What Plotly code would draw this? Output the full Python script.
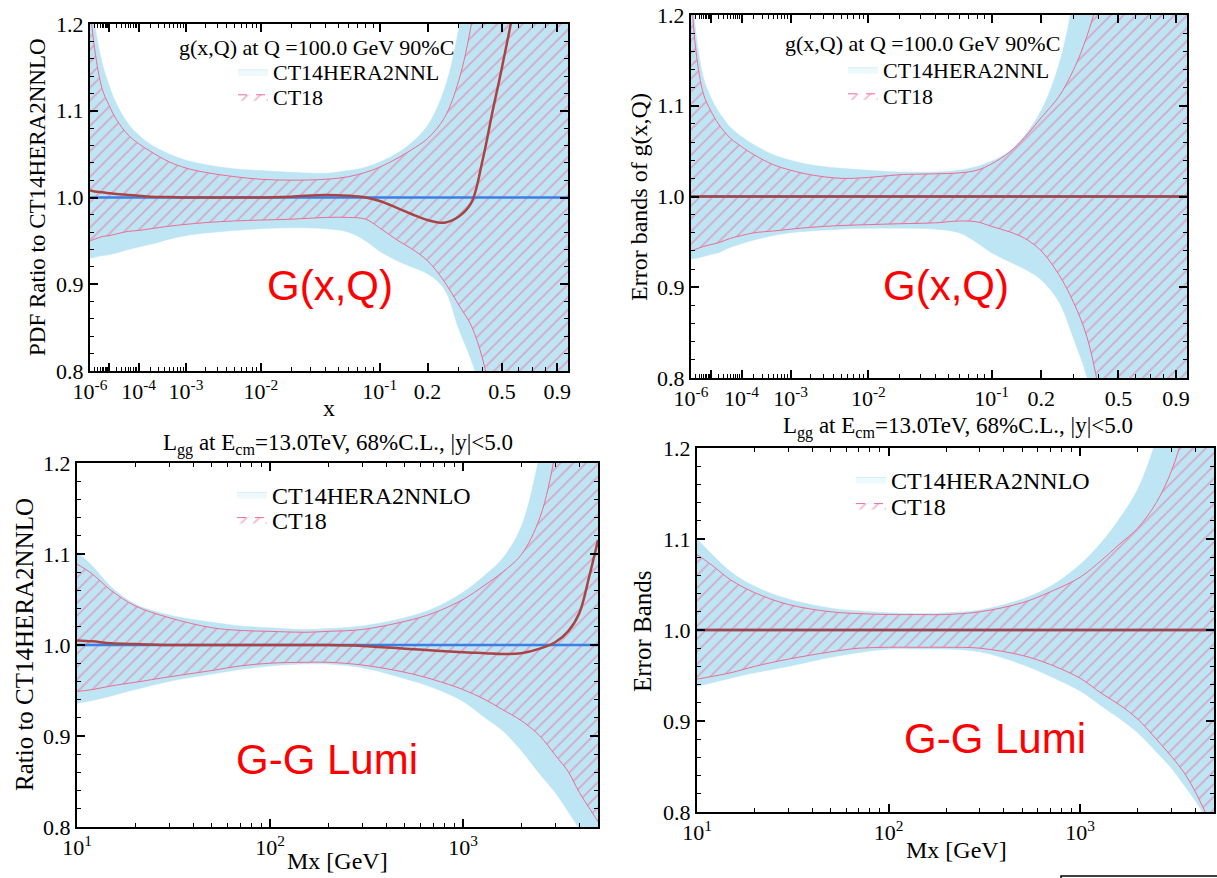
import plotly.graph_objects as go

W, H = 1217, 878
SERIF = "Liberation Serif, Times New Roman, serif"
SANS = "Liberation Sans, Arial, sans-serif"

BLUE_FILL = "rgb(190,229,244)"
PINK = "rgb(236,108,148)"
BLUE_LINE = "rgb(58,128,228)"
RED_LINE = "rgb(170,68,68)"

# ---------------- gluon PDF at Q = 100 GeV (top row) ----------------
x_pdf = [1e-6, 2e-6, 5e-6, 1e-5, 2e-5, 5e-5, 1e-4, 2e-4, 5e-4, 1e-3, 2e-3, 5e-3,
         1e-2, 2e-2, 4e-2, 6e-2, 8e-2, 0.1, 0.13, 0.16, 0.2, 0.25, 0.3, 0.35,
         0.4, 0.45, 0.5, 0.6, 0.7, 0.8, 0.9, 1.0]

# ratio to CT14HERA2NNLO (top left)
ct14_up_ratio = [1.26, 1.20, 1.155, 1.13, 1.108, 1.085, 1.072, 1.061, 1.05, 1.043, 1.038, 1.033,
                 1.031, 1.029, 1.028, 1.031, 1.035, 1.041, 1.051, 1.063, 1.083, 1.125, 1.195, 1.30,
                 1.42, 1.55, 1.7, 2.0, 2.5, 3.0, 4.0, 5.0]
ct14_lo_ratio = [0.930, 0.931, 0.933, 0.934, 0.936, 0.940, 0.943, 0.946, 0.952, 0.956, 0.959, 0.962,
                 0.964, 0.965, 0.964, 0.960, 0.950, 0.938, 0.927, 0.920, 0.912, 0.894, 0.848, 0.812,
                 0.77, 0.71, 0.64, 0.5, 0.3, 0.1, -0.1, -0.3]
ct18_up_ratio = [1.22, 1.17, 1.125, 1.107, 1.09, 1.072, 1.062, 1.053, 1.041, 1.034, 1.029, 1.024,
                 1.021, 1.020, 1.021, 1.024, 1.029, 1.035, 1.045, 1.055, 1.068, 1.092, 1.135, 1.20,
                 1.29, 1.38, 1.48, 1.7, 2.1, 2.6, 3.2, 4.0]
ct18_lo_ratio = [0.950, 0.952, 0.955, 0.956, 0.958, 0.961, 0.962, 0.964, 0.967, 0.969, 0.971, 0.973,
                 0.974, 0.975, 0.977, 0.977, 0.975, 0.965, 0.951, 0.941, 0.927, 0.903, 0.876, 0.852,
                 0.814, 0.76, 0.70, 0.56, 0.4, 0.2, 0.0, -0.2]
ct18_c_ratio = [1.008, 1.007, 1.006, 1.005, 1.004, 1.003, 1.002, 1.001, 1.0005, 1.0, 1.0, 1.0,
                1.0, 1.001, 1.003, 1.002, 1.0, 0.996, 0.988, 0.981, 0.974, 0.971, 0.978, 0.994,
                1.043, 1.10, 1.15, 1.25, 1.4, 1.6, 1.8, 2.0]
ct14_c_pdf = [1.0] * len(x_pdf)

# error bands, each set normalised to its own central value (top right)
ct14_up_err = [1.25, 1.18, 1.13, 1.11, 1.094, 1.076, 1.066, 1.057, 1.046, 1.040, 1.035, 1.031,
               1.029, 1.027, 1.027, 1.029, 1.033, 1.039, 1.050, 1.067, 1.095, 1.145, 1.22, 1.32,
               1.45, 1.6, 1.8, 2.2, 2.7, 3.2, 3.8, 4.5]
ct14_lo_err = [0.931, 0.932, 0.934, 0.936, 0.938, 0.944, 0.948, 0.952, 0.957, 0.960, 0.962, 0.964,
               0.965, 0.965, 0.964, 0.960, 0.949, 0.938, 0.928, 0.920, 0.908, 0.884, 0.843, 0.802,
               0.75, 0.69, 0.62, 0.45, 0.25, 0.05, -0.15, -0.35]
ct18_up_err = [1.23, 1.16, 1.112, 1.095, 1.08, 1.064, 1.055, 1.046, 1.035, 1.029, 1.024, 1.020,
               1.021, 1.024, 1.025, 1.026, 1.029, 1.036, 1.049, 1.065, 1.087, 1.110, 1.140, 1.176,
               1.22, 1.28, 1.35, 1.55, 1.8, 2.1, 2.5, 3.0]
ct18_lo_err = [0.940, 0.942, 0.945, 0.947, 0.949, 0.954, 0.957, 0.960, 0.962, 0.964, 0.966, 0.968,
               0.969, 0.970, 0.971, 0.973, 0.972, 0.967, 0.961, 0.954, 0.940, 0.914, 0.883, 0.846,
               0.79, 0.72, 0.64, 0.47, 0.28, 0.08, -0.12, -0.3]

# ---------------- gg luminosity at 13 TeV (bottom row) ----------------
m_lumi = [10, 12, 15, 20, 30, 50, 70, 100, 150, 200, 300, 500, 700, 1000, 1300, 1600,
          2000, 2500, 3000, 3500, 4000, 4500, 5000]

ct14_up_lratio = [1.102, 1.087, 1.064, 1.045, 1.033, 1.025, 1.021, 1.019, 1.017, 1.018, 1.021, 1.030,
                  1.040, 1.058, 1.077, 1.095, 1.13, 1.21, 1.30, 1.40, 1.5, 1.6, 1.7]
ct14_lo_lratio = [0.936, 0.939, 0.944, 0.951, 0.960, 0.968, 0.973, 0.977, 0.979, 0.979, 0.975, 0.963,
                  0.953, 0.938, 0.920, 0.906, 0.884, 0.858, 0.838, 0.817, 0.798, 0.78, 0.76]
ct18_up_lratio = [1.089, 1.078, 1.060, 1.043, 1.030, 1.019, 1.016, 1.015, 1.014, 1.015, 1.017, 1.026,
                  1.035, 1.050, 1.066, 1.080, 1.099, 1.14, 1.21, 1.30, 1.40, 1.5, 1.6]
ct18_lo_lratio = [0.949, 0.951, 0.955, 0.959, 0.965, 0.972, 0.977, 0.980, 0.981, 0.981, 0.978, 0.970,
                  0.962, 0.951, 0.940, 0.929, 0.917, 0.900, 0.879, 0.861, 0.838, 0.821, 0.806]
ct18_c_lratio = [1.005, 1.004, 1.002, 1.001, 1.0, 1.0, 1.0, 1.0, 1.0, 1.0, 0.999, 0.996,
                 0.994, 0.992, 0.991, 0.990, 0.991, 0.996, 1.003, 1.015, 1.035, 1.075, 1.115]
ct14_c_lumi = [1.0] * len(m_lumi)

ct14_up_lerr = [1.100, 1.083, 1.064, 1.048, 1.034, 1.024, 1.021, 1.019, 1.018, 1.019, 1.022, 1.034,
                1.048, 1.072, 1.097, 1.122, 1.155, 1.21, 1.28, 1.36, 1.45, 1.55, 1.65]
ct14_lo_lerr = [0.938, 0.942, 0.947, 0.953, 0.960, 0.970, 0.975, 0.979, 0.979, 0.979, 0.976, 0.962,
                0.949, 0.933, 0.916, 0.903, 0.887, 0.866, 0.848, 0.829, 0.812, 0.795, 0.78]
ct18_up_lerr = [1.083, 1.071, 1.055, 1.041, 1.028, 1.020, 1.018, 1.017, 1.017, 1.017, 1.020, 1.030,
                1.042, 1.058, 1.077, 1.094, 1.112, 1.14, 1.175, 1.22, 1.28, 1.35, 1.43]
ct18_lo_lerr = [0.946, 0.949, 0.953, 0.960, 0.968, 0.976, 0.980, 0.981, 0.981, 0.981, 0.980, 0.972,
                0.962, 0.947, 0.930, 0.918, 0.902, 0.880, 0.861, 0.843, 0.822, 0.80, 0.78]

# ---------------- axis ticks ----------------
XPOW = 0.2  # x axis of the PDF panels is drawn on an x^0.2 scale
top_major = [1e-6, 1e-5, 1e-4, 1e-3, 1e-2, 0.1, 0.2, 0.5, 0.9]
top_major_text = ["10<sup>-6</sup>", "", "10<sup>-4</sup>", "10<sup>-3</sup>", "10<sup>-2</sup>",
                  "10<sup>-1</sup>", "0.2", "0.5", "0.9"]
top_minor = [k * 10.0 ** n for n in range(-6, -1) for k in range(2, 10)] + [0.3, 0.4, 0.6, 0.7, 0.8]
bot_major = [10, 100, 1000]
bot_major_text = ["10<sup>1</sup>", "10<sup>2</sup>", "10<sup>3</sup>"]
bot_minor = [k * 10 ** n for n in (1, 2) for k in range(2, 10)] + [2000, 3000, 4000, 5000]
y_major = [0.8, 0.9, 1.0, 1.1, 1.2]
y_major_text = ["0.8", "0.9", "1.0", "1.1", "1.2"]


def tx(vals):
    return [v ** XPOW for v in vals]


# panel frames in pixels: (left, top, right, bottom)
boxes = {
    1: (90, 24, 568, 371),
    2: (691, 15, 1187, 378),
    3: (77, 463, 598, 827),
    4: (697, 448, 1214, 812),
}


def px(x):
    return x / W


def py(y):
    return 1 - y / H


fig = go.Figure()


def add_panel(k, xs, lo14, up14, lo18, up18, c14, c18, name14, leg_a, leg_b):
    xa, ya = f"x{k if k > 1 else ''}", f"y{k if k > 1 else ''}"
    common = dict(xaxis=xa, yaxis=ya, mode="lines", hoverinfo="skip")
    pattern = dict(shape="/", fgcolor=PINK, bgcolor="rgba(0,0,0,0)", size=9, solidity=0.2)
    fig.add_trace(go.Scatter(x=xs, y=lo14, line=dict(color=BLUE_FILL, width=0.5, shape="spline"),
                             showlegend=False, **common))
    fig.add_trace(go.Scatter(x=xs, y=up14, line=dict(color=BLUE_FILL, width=0.5, shape="spline"),
                             fill="tonexty", fillcolor=BLUE_FILL, showlegend=False, **common))
    fig.add_trace(go.Scatter(x=xs, y=lo18, line=dict(color=PINK, width=1, shape="spline"),
                             showlegend=False, **common))
    fig.add_trace(go.Scatter(x=xs, y=up18, line=dict(color=PINK, width=1, shape="spline"),
                             fill="tonexty", fillcolor="rgba(0,0,0,0)", fillpattern=pattern,
                             showlegend=False, **common))
    fig.add_trace(go.Scatter(x=xs, y=c14, line=dict(color=BLUE_LINE, width=2.5),
                             showlegend=False, **common))
    fig.add_trace(go.Scatter(x=xs, y=c18, line=dict(color=RED_LINE, width=2.5, shape="spline"),
                             showlegend=False, **common))
    # legend keys
    fig.add_trace(go.Scatter(x=[None], y=[None], mode="lines", fill="toself",
                             fillcolor="rgb(238,249,252)",
                             line=dict(color="rgb(214,238,246)", width=1),
                             name=name14, legend=leg_a, xaxis=xa, yaxis=ya, hoverinfo="skip"))
    fig.add_trace(go.Scatter(x=[None], y=[None], mode="lines", fill="toself",
                             fillcolor="rgba(0,0,0,0)", fillpattern=pattern,
                             line=dict(color=PINK, width=1, dash="dash"),
                             name="CT18", legend=leg_b, xaxis=xa, yaxis=ya, hoverinfo="skip"))


xt = tx(x_pdf)
add_panel(1, xt, ct14_lo_ratio, ct14_up_ratio, ct18_lo_ratio, ct18_up_ratio,
          ct14_c_pdf, ct18_c_ratio, "CT14HERA2NNL", "legend9", "legend2")
add_panel(2, xt, ct14_lo_err, ct14_up_err, ct18_lo_err, ct18_up_err,
          ct14_c_pdf, ct14_c_pdf, "CT14HERA2NNL", "legend3", "legend4")
add_panel(3, m_lumi, ct14_lo_lratio, ct14_up_lratio, ct18_lo_lratio, ct18_up_lratio,
          ct14_c_lumi, ct18_c_lratio, "CT14HERA2NNLO", "legend5", "legend6")
add_panel(4, m_lumi, ct14_lo_lerr, ct14_up_lerr, ct18_lo_lerr, ct18_up_lerr,
          ct14_c_lumi, ct14_c_lumi, "CT14HERA2NNLO", "legend7", "legend8")

tickfont = dict(family=SERIF, size=22, color="black")
frame = dict(showline=True, linewidth=2, linecolor="black", mirror="ticks", ticks="inside",
             ticklen=8, tickwidth=1.5, tickcolor="black", showgrid=False, zeroline=False,
             tickfont=tickfont)

layout = {}
for k, (l, t, r, b) in boxes.items():
    sfx = "" if k == 1 else str(k)
    if k <= 2:
        xax = dict(type="linear", range=[1e-6 ** XPOW, 1.0], tickmode="array",
                   tickvals=tx(top_major), ticktext=top_major_text,
                   minor=dict(tickmode="array", tickvals=tx(top_minor), ticks="inside",
                              ticklen=4, tickwidth=1.2, tickcolor="black", showgrid=False))
    else:
        xax = dict(type="log", range=[1, 3.699], tickmode="array",
                   tickvals=bot_major, ticktext=bot_major_text,
                   minor=dict(tickmode="array", tickvals=bot_minor, ticks="inside",
                              ticklen=4, tickwidth=1.2, tickcolor="black", showgrid=False))
    xax.update(frame)
    xax.update(domain=[px(l), px(r)], anchor="y" + sfx)
    yax = dict(range=[0.8, 1.2], tickmode="array", tickvals=y_major, ticktext=y_major_text,
               minor=dict(tickmode="linear", tick0=0.8, dtick=0.02, ticks="inside",
                          ticklen=4, tickwidth=1.2, tickcolor="black", showgrid=False))
    yax.update(frame)
    yax.update(domain=[py(b), py(t)], anchor="x" + sfx)
    layout["xaxis" + sfx] = xax
    layout["yaxis" + sfx] = yax

# legends: one entry per legend so each row sits exactly where wanted
leg_rows = {
    "legend9": (233, 72, 22), "legend2": (233, 97, 22),
    "legend3": (843, 70, 22), "legend4": (843, 96, 22),
    "legend5": (232, 495, 24), "legend6": (232, 520, 24),
    "legend7": (851, 480, 24), "legend8": (851, 506, 24),
}
for key, (lx, ly, fs) in leg_rows.items():
    layout[key] = dict(x=px(lx), y=py(ly), xanchor="left", yanchor="middle",
                       bgcolor="rgba(0,0,0,0)", borderwidth=0, itemwidth=30,
                       font=dict(family=SERIF, size=fs, color="black"))

annotations = []


def note(text, x, y, size, family=SERIF, color="black", angle=0, xanchor="center"):
    annotations.append(dict(text=text, x=px(x), y=py(y), xref="paper", yref="paper",
                            showarrow=False, textangle=angle, xanchor=xanchor, yanchor="middle",
                            font=dict(family=family, size=size, color=color)))


# panel headings
note("g(x,Q) at Q =100.0 GeV 90%C", 177, 47, 22, xanchor="left")
note("g(x,Q) at Q =100.0 GeV 90%C", 783, 44, 22, xanchor="left")
lumi_title = "L<sub>gg</sub> at E<sub>cm</sub>=13.0TeV, 68%C.L., |y|&lt;5.0"
note(lumi_title, 338, 444, 23)
note(lumi_title, 958, 427, 23)

# axis titles
note("PDF Ratio to CT14HERA2NNLO", 38, 197, 23, angle=-90)
note("Error bands of g(x,Q)", 639, 197, 24, angle=-90)
note("Ratio to CT14HERA2NNLO", 24, 645, 25, angle=-90)
note("Error Bands", 642, 631, 25, angle=-90)
note("x", 329, 408, 24)
note("Mx [GeV]", 337, 861, 24)
note("Mx [GeV]", 956, 850, 24)

# panel labels
note("G(x,Q)", 330, 285, 42, family=SANS, color="rgb(255,0,0)")
note("G(x,Q)", 946, 285, 42, family=SANS, color="rgb(255,0,0)")
note("G-G Lumi", 327, 759, 42, family=SANS, color="rgb(255,0,0)")
note("G-G Lumi", 995, 738, 42, family=SANS, color="rgb(255,0,0)")

shapes = [dict(type="rect", xref="paper", yref="paper", x0=px(1061), x1=px(1240),
               y0=py(876), y1=py(905), line=dict(color="black", width=1.5))]

fig.update_layout(
    width=W, height=H, margin=dict(l=0, r=0, t=0, b=0, autoexpand=False),
    paper_bgcolor="white", plot_bgcolor="white",
    annotations=annotations, shapes=shapes, hovermode=False,
    **layout,
)

fig.write_html("out.html",
               post_script="document.body.style.margin='0';document.body.style.padding='0';")
